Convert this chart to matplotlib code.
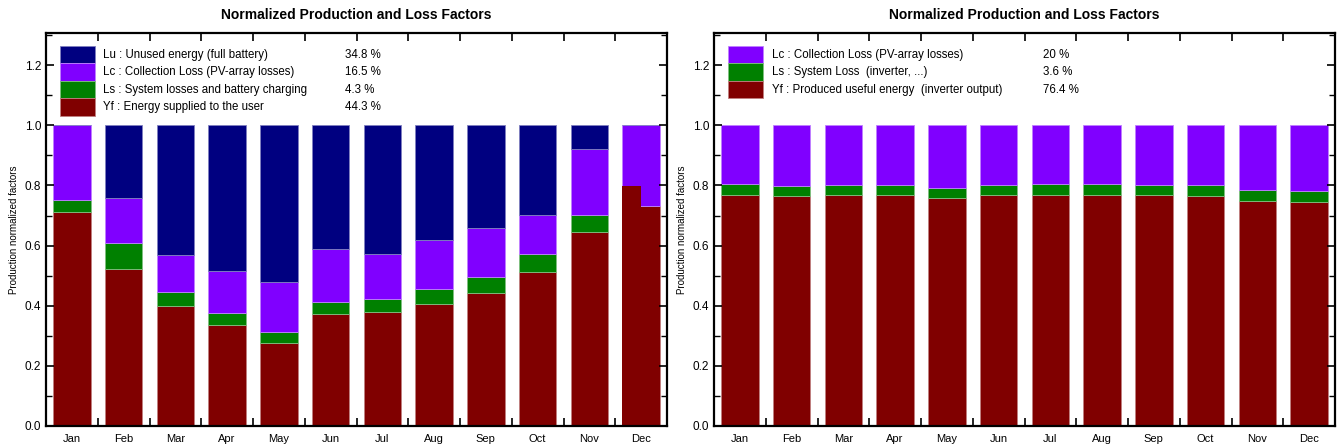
import matplotlib
matplotlib.use("Agg")
from matplotlib import pyplot as plt
from matplotlib.patches import Rectangle
import numpy as np

plt.rcParams['font.family'] = ['Liberation Sans', 'DejaVu Sans']

months = ['Jan', 'Feb', 'Mar', 'Apr', 'May', 'Jun',
          'Jul', 'Aug', 'Sep', 'Oct', 'Nov', 'Dec']

# left chart: stand-alone system with battery (cumulative tops)
left_yf = [0.712, 0.522, 0.400, 0.336, 0.275, 0.373, 0.378, 0.407, 0.443, 0.511, 0.645, 0.731]
left_ls = [0.039, 0.087, 0.045, 0.040, 0.038, 0.041, 0.044, 0.047, 0.052, 0.060, 0.056, 0.000]
left_lc = [0.249, 0.150, 0.123, 0.139, 0.167, 0.173, 0.149, 0.164, 0.165, 0.130, 0.221, 0.269]
left_lu = [0.000, 0.241, 0.432, 0.485, 0.520, 0.413, 0.429, 0.382, 0.340, 0.299, 0.078, 0.000]
dec_yf_left_half = 0.797  # odd step drawn in the Dec bar

left_labels = ['Lu : Unused energy (full battery)',
               'Lc : Collection Loss (PV-array losses)',
               'Ls : System losses and battery charging',
               'Yf : Energy supplied to the user']
left_pct = ['34.8 %', '16.5 %', '4.3 %', '44.3 %']

# right chart: grid-connected
right_yf = [0.767, 0.764, 0.767, 0.767, 0.757, 0.767, 0.767, 0.767, 0.767, 0.764, 0.749, 0.746]
right_ls = [0.038, 0.033, 0.034, 0.034, 0.034, 0.034, 0.038, 0.038, 0.034, 0.037, 0.037, 0.037]
right_lc = [1 - a - b for a, b in zip(right_yf, right_ls)]

right_labels = ['Lc : Collection Loss (PV-array losses)',
                'Ls : System Loss  (inverter, ...)',
                'Yf : Produced useful energy  (inverter output)']
right_pct = ['20 %', '3.6 %', '76.4 %']

c_lu = '#000080'
c_lc = '#8000ff'
c_ls = '#008000'
c_yf = '#800000'
edge = {c_lu: '#8080c0', c_lc: '#c080ff', c_ls: '#80c080', c_yf: '#c08080'}

W, H = 1337, 446
fig = plt.figure(figsize=(W / 100, H / 100), dpi=100)


def make_axes(x0, x1, y0=33, y1=426):
    return fig.add_axes([x0 / W, 1 - y1 / H, (x1 - x0) / W, (y1 - y0) / H])


def stack(ax, layers):
    x = np.arange(len(months))
    bottom = np.zeros(len(months))
    for vals, col in layers:
        ax.bar(x, vals, width=0.72, bottom=bottom, color=col,
               edgecolor=edge[col], linewidth=0.6)
        bottom = bottom + np.array(vals)


def style(ax):
    ax.set_xlim(-0.5, 11.5)
    ax.set_ylim(0, 1.307)
    ax.set_xticks(np.arange(12))
    ax.set_xticklabels(months, fontsize=8)
    ax.set_xticks(np.arange(12) + 0.5, minor=True)
    ax.tick_params(axis='x', which='major', length=0, pad=6)
    ax.tick_params(axis='x', which='minor', direction='in', length=6,
                   width=1.2, top=True, bottom=True)
    ax.set_yticks(np.arange(0, 1.21, 0.2))
    ax.set_yticklabels(['%.1f' % v for v in np.arange(0, 1.21, 0.2)], fontsize=8.5)
    ax.set_yticks(np.arange(0.1, 1.31, 0.2), minor=True)
    ax.tick_params(axis='y', which='major', direction='in', length=6,
                   width=1.2, left=True, right=True)
    ax.tick_params(axis='y', which='minor', direction='in', length=4,
                   width=1.0, left=True, right=True)
    for s in ax.spines.values():
        s.set_linewidth(1.6)
    ax.set_title('Normalized Production and Loss Factors', fontsize=10,
                 fontweight='bold', pad=10)
    ax.set_ylabel('Production normalized factors', fontsize=7, labelpad=4)


def legend(ax, x_sw, x_txt, x_pct, colors, labels, pcts):
    top = 0.967
    row = 0.0445
    for i, (col, lab, p) in enumerate(zip(colors, labels, pcts)):
        y = top - (i + 1) * row
        ax.add_patch(Rectangle((x_sw, y), 0.057, row, transform=ax.transAxes,
                               facecolor=col, edgecolor=edge[col], lw=0.6))
        ax.text(x_txt, y + row / 2, lab, transform=ax.transAxes, fontsize=8.3,
                va='center', ha='left')
        ax.text(x_pct, y + row / 2, p, transform=ax.transAxes, fontsize=8.3,
                va='center', ha='left')


# left
ax1 = make_axes(46, 667)
stack(ax1, [(left_yf, c_yf), (left_ls, c_ls), (left_lc, c_lc), (left_lu, c_lu)])
ax1.bar(11 - 0.18, dec_yf_left_half, width=0.36, color=c_yf, linewidth=0)
style(ax1)
legend(ax1, 0.0225, 0.092, 0.482, [c_lu, c_lc, c_ls, c_yf], left_labels, left_pct)

# right
ax2 = make_axes(714, 1335)
stack(ax2, [(right_yf, c_yf), (right_ls, c_ls), (right_lc, c_lc)])
style(ax2)
legend(ax2, 0.0225, 0.094, 0.53, [c_lc, c_ls, c_yf], right_labels, right_pct)

fig.savefig('out.png', dpi=100)
